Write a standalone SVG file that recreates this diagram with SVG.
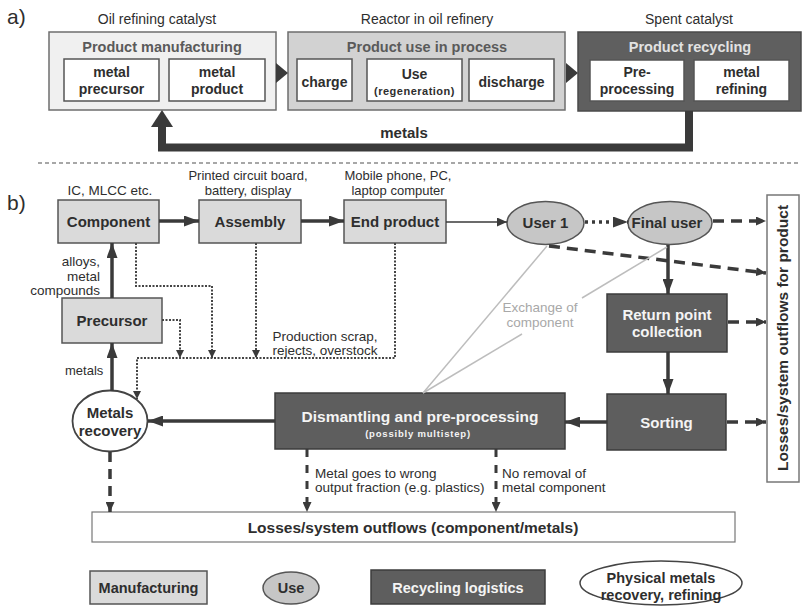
<svg xmlns="http://www.w3.org/2000/svg" width="805" height="606" viewBox="0 0 805 606">
<style>
text{font-family:"Liberation Sans",Arial,sans-serif;fill:#2e2e2e}
.lbl{font-size:13.5px}
.b{font-weight:bold}
.n{font-size:15px;font-weight:bold;text-anchor:middle}
.w{fill:#f4f4f4}
.c{text-anchor:middle}
.light{fill:#dadada;stroke:#555;stroke-width:1.5}
.dark{fill:#5e5e5e;stroke:#3c3c3c;stroke-width:1.5}
.use{fill:#c6c6c6;stroke:#555;stroke-width:1.5}
.inner{fill:#fff;stroke:#555;stroke-width:1.5}
.thick{stroke:#3a3a3a;stroke-width:3.5;fill:none}
.dash{stroke:#3a3a3a;stroke-width:3.5;fill:none;stroke-dasharray:11 7}
.dot{stroke:#444;stroke-width:2;fill:none;stroke-dasharray:2 1.5}
.gray{stroke:#bdbdbd;stroke-width:1.5;fill:none}
</style>
<defs>
<marker id="ah" markerUnits="userSpaceOnUse" markerWidth="15" markerHeight="11" refX="15" refY="5.5" orient="auto"><path d="M0,0 L15,5.5 L0,11 z" fill="#3a3a3a"/></marker>
<marker id="ahs" markerUnits="userSpaceOnUse" markerWidth="10" markerHeight="9" refX="10" refY="4.5" orient="auto"><path d="M0,0 L10,4.5 L0,9 z" fill="#3a3a3a"/></marker>
<marker id="ahd" markerUnits="userSpaceOnUse" markerWidth="8" markerHeight="8" refX="8" refY="4" orient="auto"><path d="M0,0 L8,4 L0,8 z" fill="#3a3a3a"/></marker>
</defs>

<!-- ===== a) ===== -->
<text x="7" y="24" style="font-size:21px">a)</text>
<text x="157" y="24" class="c" style="font-size:14px">Oil refining catalyst</text>
<text x="427" y="24" class="c" style="font-size:14px">Reactor in oil refinery</text>
<text x="689" y="24" class="c" style="font-size:14px">Spent catalyst</text>

<g id="a-manufacturing">
<rect x="49" y="32" width="227" height="78" fill="#f0f0f0" stroke="#6e6e6e" stroke-width="1.5"/>
<text x="162" y="52" class="c b" style="font-size:14.5px;fill:#5a5a5a">Product manufacturing</text>
<rect class="inner" x="64" y="59" width="95" height="42"/>
<text x="111.5" y="77" class="c b" style="font-size:14px">metal</text>
<text x="111.5" y="94" class="c b" style="font-size:14px">precursor</text>
<rect class="inner" x="169" y="59" width="96" height="42"/>
<text x="217" y="77" class="c b" style="font-size:14px">metal</text>
<text x="217" y="94" class="c b" style="font-size:14px">product</text>
</g>

<g id="a-use">
<rect x="288" y="32" width="277" height="78" fill="#d2d2d2" stroke="#6e6e6e" stroke-width="1.5"/>
<text x="427" y="52" class="c b" style="font-size:14.5px;fill:#5a5a5a">Product use in process</text>
<rect class="inner" x="297" y="59" width="55" height="42"/>
<text x="324.5" y="87" class="c b" style="font-size:14px">charge</text>
<rect class="inner" x="367" y="59" width="95" height="42"/>
<text x="414.5" y="79" class="c b" style="font-size:14px">Use</text>
<text x="414.5" y="95" class="c b" style="font-size:11px;letter-spacing:0.5px">(regeneration)</text>
<rect class="inner" x="469" y="59" width="85" height="42"/>
<text x="511.5" y="87" class="c b" style="font-size:14px">discharge</text>
</g>

<g id="a-recycling">
<rect x="578" y="32" width="223" height="79" fill="#5f5f5f" stroke="#4a4a4a" stroke-width="1.5"/>
<text x="690" y="52" class="c b" style="font-size:14.5px;fill:#e2e2e2">Product recycling</text>
<rect class="inner" x="590" y="60" width="94" height="41"/>
<text x="637" y="77" class="c b" style="font-size:14px">Pre-</text>
<text x="637" y="94" class="c b" style="font-size:14px">processing</text>
<rect class="inner" x="694" y="60" width="95" height="41"/>
<text x="741.5" y="77" class="c b" style="font-size:14px">metal</text>
<text x="741.5" y="94" class="c b" style="font-size:14px">refining</text>
</g>

<g id="a-connectors">
<path d="M276,63 L288,73 L276,83 z" fill="#3a3a3a"/>
<path d="M566,63 L578,73 L566,83 z" fill="#3a3a3a"/>
<path d="M689,111 L689,147.5 L162,147.5 L162,126" stroke="#3a3a3a" stroke-width="8" fill="none"/>
<path d="M151,127 L162,110 L173,127 z" fill="#3a3a3a"/>
<text x="404" y="138" class="c b" style="font-size:15px">metals</text>
</g>

<line x1="38" y1="163" x2="801" y2="163" stroke="#8a8a8a" stroke-width="1.5" stroke-dasharray="4 3"/>

<!-- ===== b) ===== -->
<text x="7" y="210" style="font-size:21px">b)</text>
<text x="110" y="195" class="c lbl">IC, MLCC etc.</text>
<text x="248" y="180" class="c" style="font-size:13px">Printed circuit board,</text>
<text x="248" y="195" class="c" style="font-size:13px">battery, display</text>
<text x="398" y="180" class="c" style="font-size:13px">Mobile phone, PC,</text>
<text x="398" y="195" class="c" style="font-size:13px">laptop computer</text>

<g id="component"><rect class="light" x="58" y="200" width="101" height="43"/><text x="108.5" y="227" class="n">Component</text></g>
<g id="assembly"><rect class="light" x="199" y="200" width="102" height="43"/><text x="250" y="227" class="n">Assembly</text></g>
<g id="end-product"><rect class="light" x="344" y="200" width="102" height="43"/><text x="395" y="227" class="n">End product</text></g>
<g id="user1"><ellipse class="use" cx="545.5" cy="223" rx="38.5" ry="21.5"/><text x="545.5" y="228" class="n">User 1</text></g>
<g id="final-user"><ellipse class="use" cx="670" cy="223" rx="42" ry="21.5"/><text x="667" y="228" class="n">Final user</text></g>
<g id="losses-product"><rect x="767" y="195" width="32" height="287" fill="#fff" stroke="#777" stroke-width="1.5"/><text transform="translate(788,338) rotate(-90)" class="n" style="font-size:15.5px">Losses/system outflows for product</text></g>
<g id="precursor"><rect class="light" x="62" y="298" width="100" height="45"/><text x="112" y="326" class="n">Precursor</text></g>
<g id="return-point"><rect class="dark" x="607" y="294" width="120" height="58"/><text x="667" y="320" class="n w">Return point</text><text x="667" y="337" class="n w">collection</text></g>
<g id="sorting"><rect class="dark" x="607" y="394" width="119" height="56"/><text x="666.5" y="428" class="n w">Sorting</text></g>
<g id="dismantling"><rect class="dark" x="275" y="393" width="290" height="56"/><text x="420" y="422" class="n w" style="font-size:15.5px">Dismantling and pre-processing</text><text x="418" y="437" class="c b w" style="font-size:9.5px;letter-spacing:0.8px">(possibly multistep)</text></g>
<g id="metals-recovery"><ellipse cx="110" cy="421" rx="37.5" ry="30.5" fill="#fff" stroke="#444" stroke-width="1.8"/><text x="110" y="418" class="n">Metals</text><text x="110" y="436" class="n">recovery</text></g>
<g id="losses-component"><rect x="92" y="512" width="643" height="30" fill="#fff" stroke="#777" stroke-width="1.2"/><text x="413" y="533" class="n" style="font-size:15.5px">Losses/system outflows (component/metals)</text></g>

<g id="connectors">
<line class="thick" x1="159" y1="221" x2="199" y2="221" marker-end="url(#ah)"/>
<line class="thick" x1="301" y1="221" x2="344" y2="221" marker-end="url(#ah)"/>
<line x1="446" y1="222" x2="507" y2="222" stroke="#3a3a3a" stroke-width="1.5" marker-end="url(#ahs)"/>
<line x1="585" y1="222" x2="628" y2="222" stroke="#3a3a3a" stroke-width="3.5" stroke-dasharray="3 4" marker-end="url(#ah)"/>
<line class="dash" x1="713" y1="221" x2="766" y2="221" marker-end="url(#ahs)"/>
<line class="dash" x1="549" y1="246" x2="766" y2="273" marker-end="url(#ahs)"/>
<line class="thick" x1="668" y1="245" x2="668" y2="294" marker-end="url(#ah)"/>
<line class="dash" x1="728" y1="322" x2="766" y2="322" marker-end="url(#ahs)"/>
<line class="thick" x1="668" y1="352" x2="668" y2="394" marker-end="url(#ah)"/>
<line class="dash" x1="727" y1="422" x2="766" y2="422" marker-end="url(#ahs)"/>
<line class="thick" x1="607" y1="422" x2="565" y2="422" marker-end="url(#ah)"/>
<line class="thick" x1="275" y1="421" x2="148" y2="421" marker-end="url(#ah)"/>
<line class="thick" x1="112" y1="391" x2="112" y2="343" marker-end="url(#ah)"/>
<line class="thick" x1="112" y1="298" x2="112" y2="243" marker-end="url(#ah)"/>
<polyline class="dot" points="136,243 136,286 212,286 212,358" marker-end="url(#ahd)"/>
<polyline class="dot" points="162,320 180,320 180,358" marker-end="url(#ahd)"/>
<polyline class="dot" points="256,243 256,358" marker-end="url(#ahd)"/>
<polyline class="dot" points="395,243 395,358 137,358 137,399" marker-end="url(#ahd)"/>
<line x1="307" y1="449" x2="307" y2="512" stroke="#3a3a3a" stroke-width="3" stroke-dasharray="8 8" marker-end="url(#ahs)"/>
<line x1="496" y1="449" x2="496" y2="512" stroke="#3a3a3a" stroke-width="3" stroke-dasharray="8 8" marker-end="url(#ahs)"/>
<line x1="110" y1="452" x2="110" y2="512" stroke="#3a3a3a" stroke-width="3.5" stroke-dasharray="10 7" marker-end="url(#ahs)"/>
<line class="gray" x1="547" y1="246" x2="423" y2="393"/>
<line class="gray" x1="667" y1="247" x2="582" y2="298"/>
<line class="gray" x1="522" y1="334" x2="423" y2="393"/>
</g>

<text x="100" y="266" class="lbl" text-anchor="end">alloys,</text>
<text x="100" y="281" class="lbl" text-anchor="end">metal</text>
<text x="100" y="295" class="lbl" text-anchor="end">compounds</text>
<text x="65" y="375" class="lbl" style="font-size:13px">metals</text>
<text x="325" y="341" class="c lbl">Production scrap,</text>
<text x="325" y="355" class="c lbl">rejects, overstock</text>
<text x="540" y="312" class="c lbl" style="fill:#a8a8a8">Exchange of</text>
<text x="540" y="327" class="c lbl" style="fill:#a8a8a8">component</text>
<text x="315" y="478" class="lbl">Metal goes to wrong</text>
<text x="315" y="492" class="lbl">output fraction (e.g. plastics)</text>
<text x="502" y="478" class="lbl">No removal of</text>
<text x="502" y="492" class="lbl">metal component</text>

<!-- legend -->
<g id="legend-manufacturing"><rect class="light" x="90" y="571" width="117" height="33"/><text x="148.5" y="593" class="n" style="font-size:14.5px">Manufacturing</text></g>
<g id="legend-use"><ellipse class="use" cx="291" cy="588" rx="28" ry="16"/><text x="291" y="593" class="n" style="font-size:14.5px">Use</text></g>
<g id="legend-recycling"><rect class="dark" x="371" y="570" width="174" height="34"/><text x="458" y="593" class="n w" style="font-size:14.5px">Recycling logistics</text></g>
<g id="legend-physical"><ellipse cx="661" cy="583" rx="81" ry="22" fill="#fff" stroke="#444" stroke-width="1.5"/><text x="661" y="583" class="n" style="font-size:14.5px">Physical metals</text><text x="661" y="600" class="n" style="font-size:14.5px">recovery, refining</text></g>
</svg>
